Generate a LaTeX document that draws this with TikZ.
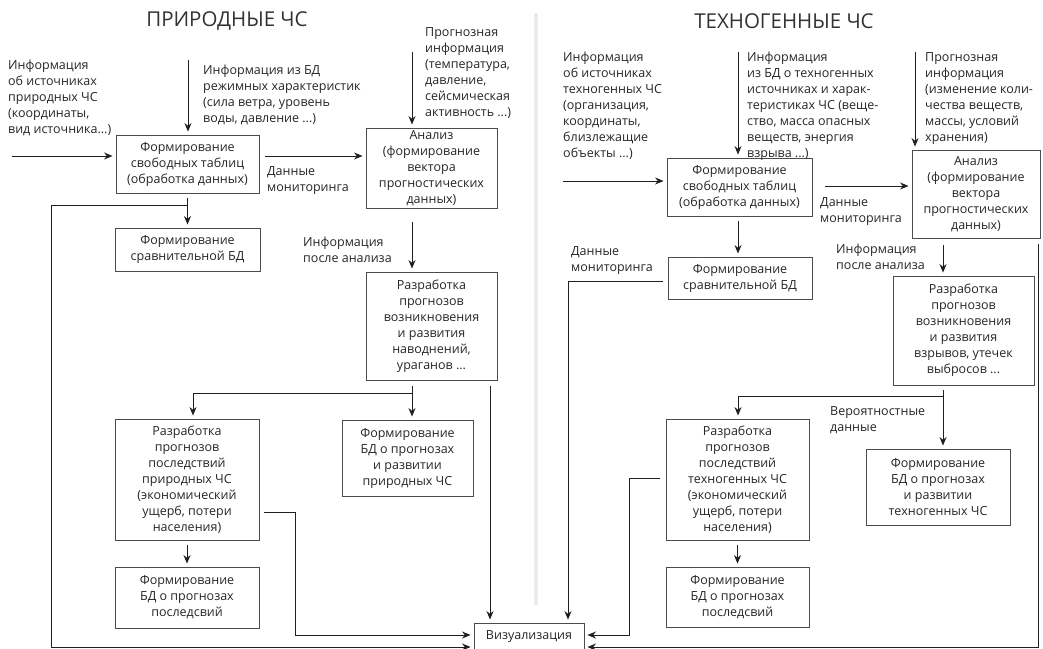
\documentclass[tikz,border=0pt]{standalone}
\usepackage{fontspec}
\setmainfont{Open Sans}
\usepackage{tikz}
\usetikzlibrary{arrows.meta, positioning}

\begin{document}
\begin{tikzpicture}[x=1pt, y=-1pt,
    >={Stealth[length=8.5pt, width=7pt]},
    blok/.style={draw=black!70, line width=0.9pt, align=center, inner sep=0pt,
        font=\fontsize{12.5}{16}\selectfont, text=black!85},
    testo/.style={align=left, inner sep=0pt, anchor=north west,
        font=\fontsize{12.5}{16}\selectfont, text=black!85},
    titolo/.style={font=\fontsize{20.5}{24}\selectfont, text=black!80},
    linea/.style={line width=1pt, draw=black!88},
    freccia/.style={linea, ->, shorten >=3pt}]

    \fill[white] (0,0) rectangle (1043,648);
    \useasboundingbox (0,0) rectangle (1043,648);

    % ==========================================
    % 1. TITOLI E SEPARATORE
    % ==========================================
    \node[titolo] (titoloNat) at (227,21) {ПРИРОДНЫЕ ЧС};
    \node[titolo] (titoloTec) at (784,21) {ТЕХНОГЕННЫЕ ЧС};
    \draw[black!8, line width=4pt] (536,13) -- (536,605);

    % ==========================================
    % 2. PRIRODNYE (A SINISTRA)
    % ==========================================

    % Blocchi
    \node[blok, minimum width=143pt, minimum height=58pt] (formTab1) at (187.5,164)
        {Формирование\\свободных таблиц\\(обработка данных)};
    \node[blok, minimum width=145pt, minimum height=43pt] (sravBD1) at (187.5,249.5)
        {Формирование\\сравнительной БД};
    \node[blok, minimum width=131pt, minimum height=80pt] (analiz1) at (431.5,168)
        {Анализ\\(формирование\\вектора\\прогностических\\данных)};
    \node[blok, minimum width=131pt, minimum height=108pt] (razrab1) at (431.5,326)
        {Разработка\\прогнозов\\возникновения\\и развития\\наводнений,\\ураганов ...};
    \node[blok, minimum width=131pt, minimum height=76pt] (bdRazv1) at (407.5,458)
        {Формирование\\БД о прогнозах\\и развитии\\природных ЧС};
    \node[blok, minimum width=144pt, minimum height=121pt] (posled1) at (187,479.5)
        {Разработка\\прогнозов\\последствий\\природных ЧС\\(экономический\\ущерб, потери\\населения)};
    \node[blok, minimum width=144pt, minimum height=61pt] (bdPosl1) at (187,597.5)
        {Формирование\\БД о прогнозах\\последсвий};

    % Testi
    \node[testo] (srcInfo1) at (8,59.5)
        {Информация\\об источниках\\природных ЧС\\(координаты,\\вид источника...)};
    \node[testo] (bdInfo1) at (203,64.5)
        {Информация из БД\\режимных характеристик\\(сила ветра, уровень\\воды, давление ...)};
    \node[testo] (progInfo1) at (425,27.5)
        {Прогнозная\\информация\\(температура,\\давление,\\сейсмическая\\активность ...)};
    \node[testo] (monit1) at (267,166.5) {Данные\\мониторинга};
    \node[testo] (dopoAnal1) at (303,236.5) {Информация\\после анализа};

    % ==========================================
    % 3. VIZUALIZACIJA (IN BASSO)
    % ==========================================
    \node[blok, minimum width=110pt, minimum height=28pt] (viz) at (529,637) {Визуализация};

    % ==========================================
    % 4. TEHNOGENNYE (A DESTRA)
    % ==========================================

    % Blocchi
    \node[blok, minimum width=145pt, minimum height=58pt] (formTab2) at (739.5,187)
        {Формирование\\свободных таблиц\\(обработка данных)};
    \node[blok, minimum width=144pt, minimum height=42pt] (sravBD2) at (740,278)
        {Формирование\\сравнительной БД};
    \node[blok, minimum width=128pt, minimum height=88pt] (analiz2) at (976,194)
        {Анализ\\(формирование\\вектора\\прогностических\\данных)};
    \node[blok, minimum width=141pt, minimum height=109pt] (razrab2) at (963.5,330.5)
        {Разработка\\прогнозов\\возникновения\\и развития\\взрывов, утечек\\выбросов ...};
    \node[blok, minimum width=144pt, minimum height=76pt] (bdRazv2) at (938,487)
        {Формирование\\БД о прогнозах\\и развитии\\техногенных ЧС};
    \node[blok, minimum width=143pt, minimum height=121pt] (posled2) at (737.5,479.5)
        {Разработка\\прогнозов\\последствий\\техногенных ЧС\\(экономический\\ущерб, потери\\населения)};
    \node[blok, minimum width=143pt, minimum height=60pt] (bdPosl2) at (737.5,597)
        {Формирование\\БД о прогнозах\\последсвий};

    % Testi
    \node[testo] (srcInfo2) at (563,51.5)
        {Информация\\об источниках\\техногенных ЧС\\(организация,\\координаты,\\близлежащие\\объекты ...)};
    \node[testo] (bdInfo2) at (747,51.5)
        {Информация\\из БД о техногенных\\источниках и харак-\\теристиках ЧС (веще-\\ство, масса опасных\\веществ, энергия\\взрыва ...)};
    \node[testo] (progInfo2) at (925,52.5)
        {Прогнозная\\информация\\(изменение коли-\\чества веществ,\\массы, условий\\хранения)};
    \node[testo] (monit2) at (820,197.5) {Данные\\мониторинга};
    \node[testo] (dopoAnal2) at (836,243.5) {Информация\\после анализа};
    \node[testo] (monit3) at (571,246.5) {Данные\\мониторинга};
    \node[testo] (probab) at (830,406.5) {Вероятностные\\данные};

    % ==========================================
    % 5. LE FRECCE (SINISTRA)
    % ==========================================
    \coordinate (ingresso1) at (12,156);
    \coordinate (bdIn1) at (188,60);
    \coordinate (progIn1) at (412,52);
    \coordinate (ramo1) at (187.5,205);
    \coordinate (angoloSx) at (51,647);
    \coordinate (giu1) at (412,393);
    \coordinate (giu2) at (193,393);
    \coordinate (giu3) at (490,386);
    \coordinate (curva1) at (295,512);
    \coordinate (curva2) at (295,635);

    \draw[freccia] (ingresso1) -- (ingresso1 -| formTab1.west);
    \draw[freccia] (bdIn1) -- (bdIn1 |- formTab1.north);
    \draw[freccia, shorten <=6pt] (ingresso1 -| formTab1.east) -- (ingresso1 -| analiz1.west);
    \draw[freccia] (progIn1) -- (progIn1 |- analiz1.north);
    \draw[freccia, shorten <=14pt] (progIn1 |- analiz1.south) -- (progIn1 |- razrab1.north);
    \draw[freccia, shorten <=5pt] (formTab1.south) -- (sravBD1.north);
    \draw[freccia] (ramo1) -| (angoloSx) -- (angoloSx -| viz.west);
    \draw[freccia, shorten <=6pt] (giu1 |- razrab1.south) -- (giu1 |- bdRazv1.north);
    \draw[freccia] (giu1) -- (giu2) -- (giu2 |- posled1.north);
    \draw[freccia, shorten <=6pt] (giu3 |- razrab1.south) -- (giu3 |- viz.north);
    \draw[freccia, shorten <=5pt] (posled1.south) -- (bdPosl1.north);
    \draw[freccia, shorten <=5pt] (curva1 -| posled1.east) -- (curva1) -- (curva2) -- (curva2 -| viz.west);

    % ==========================================
    % 6. LE FRECCE (DESTRA)
    % ==========================================
    \coordinate (ingresso2) at (563,181);
    \coordinate (bdIn2) at (738,52);
    \coordinate (progIn2) at (915,52);
    \coordinate (monitOut2) at (825,186);
    \coordinate (giu4) at (943,245);
    \coordinate (giu5) at (943,396);
    \coordinate (giu6) at (738,396);
    \coordinate (curva3) at (568,281);
    \coordinate (curva4) at (629,478);
    \coordinate (curva5) at (629,635);
    \coordinate (lungaDx) at (1038,244);
    \coordinate (angoloDx) at (1038,647);

    \draw[freccia] (ingresso2) -- (ingresso2 -| formTab2.west);
    \draw[freccia] (bdIn2) -- (bdIn2 |- formTab2.north);
    \draw[freccia] (monitOut2) -- (monitOut2 -| analiz2.west);
    \draw[freccia] (progIn2) -- (progIn2 |- analiz2.north);
    \draw[freccia] (giu4) -- (giu4 |- razrab2.north);
    \draw[freccia, shorten <=5pt] (giu5 |- razrab2.south) -- (giu5 |- bdRazv2.north);
    \draw[freccia] (giu5) -- (giu6) -- (giu6 |- posled2.north);
    \draw[freccia, shorten <=5pt] (bdIn2 |- formTab2.south) -- (bdIn2 |- sravBD2.north);
    \draw[freccia, shorten <=5pt] (curva3 -| sravBD2.west) -- (curva3) -- (curva3 |- viz.north);
    \draw[freccia, shorten <=6pt] (curva4 -| posled2.west) -- (curva4) -- (curva5) -- (curva5 -| viz.east);
    \draw[freccia, shorten <=5pt] (posled2.south) -- (bdPosl2.north);
    \draw[freccia] (lungaDx) -- (angoloDx) -- (angoloDx -| viz.east);

\end{tikzpicture}
\end{document}
